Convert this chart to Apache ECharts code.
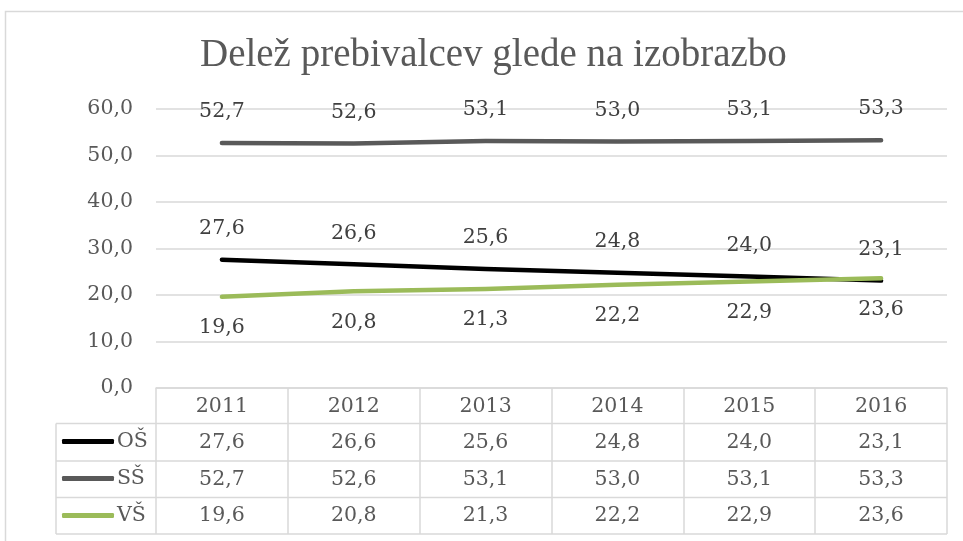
<!DOCTYPE html>
<html>
<head>
<meta charset="utf-8">
<script src="https://cdn.jsdelivr.net/npm/echarts@6/dist/echarts.min.js"></script>
<style>html,body{margin:0;padding:0;background:#fff}#c{width:963px;height:541px}</style>
</head>
<body>
<div id="c"></div>
<script>
const titleText = 'Delež prebivalcev glede na izobrazbo';
const categories = ['2011', '2012', '2013', '2014', '2015', '2016'];
const seriesNames = ['OŠ', 'SŠ', 'VŠ'];
const osValues = [27.6, 26.6, 25.6, 24.8, 24.0, 23.1];
const ssValues = [52.7, 52.6, 53.1, 53.0, 53.1, 53.3];
const vsValues = [19.6, 20.8, 21.3, 22.2, 22.9, 23.6];
const yMin = 0, yMax = 60, yStep = 10;

const TITLE_FONT = '"Liberation Serif", serif';
const FONT = '"DejaVu Serif", serif';
const FS = 20.5;
const colors = ['#000000', '#595959', '#9BBB59'];
const allValues = [osValues, ssValues, vsValues];
const fmt = v => v.toFixed(1).replace('.', ',');

const GRID = {left: 156, right: 16, top: 109, bottom: 153};
const ROW_H = 37;
const GRIDLINE = '#D9D9D9';

const chart = echarts.init(document.getElementById('c'), null, {renderer: 'canvas'});

const labelPos = ['top', 'top', 'bottom'];

chart.setOption({
  animation: false,
  backgroundColor: '#fff',
  title: {
    text: titleText,
    left: 200,
    top: 36,
    padding: 0,
    textStyle: {fontFamily: TITLE_FONT, fontSize: 39, fontWeight: 'normal', color: '#595959'}
  },
  grid: GRID,
  legend: {
    orient: 'vertical',
    left: 62,
    top: GRID.top + (541 - GRID.top - GRID.bottom) + ROW_H - 2,
    padding: 0,
    itemGap: 0,
    itemWidth: 52,
    itemHeight: 5,
    icon: 'roundRect',
    data: seriesNames,
    textStyle: {fontFamily: FONT, fontSize: FS, color: '#595959', lineHeight: ROW_H, padding: [0, 0, 0, -2]}
  },
  xAxis: {
    type: 'category',
    data: categories,
    boundaryGap: true,
    axisLine: {show: true, lineStyle: {color: GRIDLINE, width: 1.5}},
    axisTick: {show: true, interval: 0, length: ROW_H * 4 - 2, lineStyle: {color: GRIDLINE, width: 1.5}},
    axisLabel: {
      interval: 0,
      margin: 0,
      fontFamily: FONT,
      fontSize: FS,
      color: '#595959',
      lineHeight: 36.6,
      formatter: (v, i) => [v].concat(allValues.map(a => fmt(a[i]))).join('\n')
    }
  },
  yAxis: {
    type: 'value',
    min: yMin, max: yMax, interval: yStep,
    axisLine: {show: false},
    axisTick: {show: false},
    splitLine: {lineStyle: {color: GRIDLINE, width: 1.5}},
    axisLabel: {fontFamily: FONT, fontSize: FS, color: '#595959', margin: 23, formatter: v => fmt(v)}
  },
  series: seriesNames.map((name, k) => ({
    name,
    type: 'line',
    data: allValues[k],
    showSymbol: true,
    symbol: 'circle',
    symbolSize: 1,
    color: colors[k],
    itemStyle: {color: colors[k]},
    lineStyle: {color: colors[k], width: 4.5, cap: 'round', join: 'round'},
    label: {
      show: true,
      position: labelPos[k],
      distance: 20,
      fontFamily: FONT,
      fontSize: FS,
      color: '#404040',
      formatter: p => fmt(p.value)
    },
    labelLayout: {hideOverlap: false},
    z: k === 2 ? 3 : 2
  })),
  graphic: []
});

// table grid lines, positioned from the grid's own pixel mapping
const x0 = chart.convertToPixel({xAxisIndex: 0}, categories[0]);
const x1 = chart.convertToPixel({xAxisIndex: 0}, categories[1]);
const half = (x1 - x0) / 2;
const rightEdge = chart.convertToPixel({xAxisIndex: 0}, categories[categories.length - 1]) + half;
const baseY = chart.convertToPixel({yAxisIndex: 0}, yMin);
const tableLeft = 56;
const g = [];
g.push({type: 'rect', silent: true, shape: {x: 5.5, y: 11.5, width: 1000, height: 600},
  style: {fill: 'none', stroke: '#D9D9D9', lineWidth: 1.5}, z: -1});
for (let r = 1; r <= 4; r++) {
  const y = baseY + r * (ROW_H - 0.5) + (r === 1 ? -1 : 0);
  g.push({type: 'line', silent: true, shape: {x1: tableLeft, y1: y, x2: rightEdge, y2: y},
    style: {stroke: GRIDLINE, lineWidth: 1.5}});
}
g.push({type: 'line', silent: true,
  shape: {x1: tableLeft, y1: baseY + ROW_H - 1.5, x2: tableLeft, y2: baseY + 4 * (ROW_H - 0.5)},
  style: {stroke: GRIDLINE, lineWidth: 1.5}});
chart.setOption({graphic: g});
</script>
</body>
</html>
